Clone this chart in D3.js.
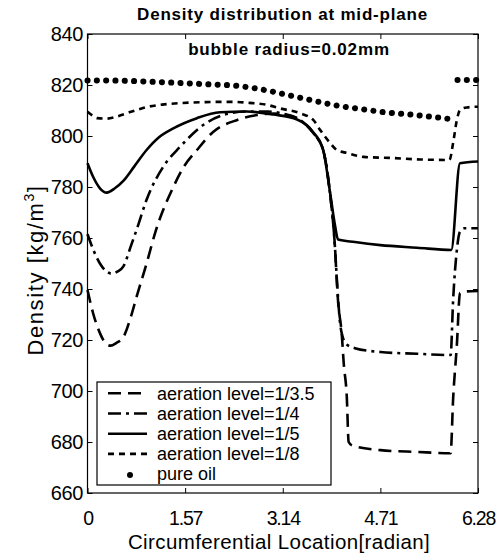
<!DOCTYPE html>
<html><head><meta charset="utf-8">
<script src="https://cdn.jsdelivr.net/npm/d3@7"></script>
<style>
body{margin:0;background:#fff}
svg{display:block}
text{font-family:"Liberation Sans",Arial,Helvetica,sans-serif;fill:#000}
</style>
</head><body>
<svg id="c" width="504" height="553"></svg>
<script>
// ---------- data ----------
const xTicks = [0, 1.57, 3.14, 4.71, 6.28];
const xTickLabels = ["0", "1.57", "3.14", "4.71", "6.28"];
const yTicks = [660, 680, 700, 720, 740, 760, 780, 800, 820, 840];
const seriesNames = ["aeration level=1/3.5", "aeration level=1/4", "aeration level=1/5", "aeration level=1/8", "pure oil"];

const aer35 = [[0,739.6],[0.09,730.5],[0.2,722.7],[0.3,718.5],[0.37,717.8],[0.46,718.8],[0.58,721.3],[0.69,728.5],[0.79,737],[0.95,750],[1.1,763],[1.38,780],[1.55,788],[1.76,794.5],[2.02,801.6],[2.41,806.3],[2.73,808.2],[3.0,808.8],[3.2,808.2],[3.42,806.3],[3.63,801.2],[3.79,794.5],[3.9,777.6],[3.97,760],[4.03,735],[4.09,722],[4.12,711],[4.17,697.7],[4.2,680],[4.26,678.6],[4.71,676.8],[5.3,676.1],[5.84,675.6],[5.88,697],[5.94,718],[5.99,738.4],[6.06,739],[6.28,739.2]];

const aer4 = [[0,761.5],[0.1,755],[0.2,750],[0.3,747],[0.39,746],[0.48,746.8],[0.58,749],[0.7,757],[0.8,764],[0.95,775],[1.22,788],[1.49,795.8],[1.86,804.3],[2.18,808.2],[2.57,809.6],[2.9,809.6],[3.1,809],[3.42,806.3],[3.63,801.2],[3.79,794.5],[3.9,777.6],[3.97,760],[4.02,740],[4.06,727],[4.1,721.5],[4.17,718.2],[4.3,716.8],[4.71,715.3],[5.3,714.6],[5.84,714.1],[5.88,735.7],[5.94,755.3],[5.99,762.5],[6.06,763.8],[6.28,763.8]];

const aer5 = [[0,789.3],[0.09,784],[0.2,779.5],[0.31,777.8],[0.44,779.5],[0.58,782.5],[0.75,788],[0.95,794.5],[1.15,799.5],[1.38,803],[1.76,807],[2.13,809.3],[2.56,809.6],[2.99,808.4],[3.37,806.5],[3.63,801.5],[3.79,794.5],[3.9,778],[3.98,765],[4.03,759.4],[4.3,758.4],[4.71,757.2],[5.3,756.2],[5.85,755.3],[5.99,789.3],[6.28,790]];

const aer8 = [[0,809.5],[0.08,808],[0.16,807],[0.3,806.8],[0.45,807.5],[0.7,809.5],[0.96,811.4],[1.2,812.3],[1.49,812.9],[1.9,813.3],[2.29,813.4],[2.6,813],[2.89,812.2],[3.1,810.8],[3.42,808.9],[3.63,806.3],[3.74,802.4],[3.9,797.3],[4.01,794.5],[4.18,793.3],[4.44,791.8],[4.87,791.4],[5.35,790.8],[5.82,790.6],[5.88,797.3],[5.94,806.3],[5.99,810.2],[6.1,811.2],[6.28,811.5]];

const pureOil = [[0,821.8],[0.5,821.7],[1.0,821.3],[1.57,820.7],[2.0,820.2],[2.34,819.8],[2.9,817.8],[3.14,816.5],[3.42,815],[4.0,812],[4.5,810.2],[4.71,809.5],[5.2,808.4],[5.5,807.6],[5.86,806.6], null, [5.95,822],[6.28,822]];

// ---------- layout ----------
const svg = d3.select("#c");
const L = 87.5, R = 478, T = 34, B = 493;
const x = d3.scaleLinear().domain([0, 6.28]).range([L, R]);
const y = d3.scaleLinear().domain([660, 840]).range([B, T]);
const font = '"Liberation Sans",Arial,Helvetica,sans-serif';

svg.append("rect").attr("width", 504).attr("height", 553).attr("fill", "#fff");

const styles = [
  {data: aer35, dash: "13,7", w: 2.6, cap: "butt"},
  {data: aer4, dash: "13,5,3,5", w: 2.6, cap: "butt"},
  {data: aer5, dash: null, w: 2.6, cap: "butt"},
  {data: aer8, dash: "6,5", w: 2.6, cap: "butt"},
  {data: pureOil, dash: "0.1,9.2", w: 6, cap: "round"}
];

const line = d3.line()
  .defined(d => d !== null)
  .x(d => x(d[0]))
  .y(d => y(d[1]))
  .curve(d3.curveMonotoneX);

const g = svg.append("g");
styles.forEach(s => {
  g.append("path")
    .attr("d", line(s.data))
    .attr("fill", "none")
    .attr("stroke", "#000")
    .attr("stroke-width", s.w)
    .attr("stroke-linecap", s.cap)
    .attr("stroke-linejoin", "round")
    .attr("stroke-dasharray", s.dash);
});

// ---------- axes ----------
const axL = svg.append("g").attr("transform", `translate(${L},0)`)
  .call(d3.axisLeft(y).tickValues(yTicks).tickSize(-5).tickPadding(4.5).tickFormat(d3.format("d")));
const axB = svg.append("g").attr("transform", `translate(0,${B})`)
  .call(d3.axisBottom(x).tickValues(xTicks).tickSize(-5).tickPadding(18).tickFormat((d, i) => xTickLabels[i]));
const axT = svg.append("g").attr("transform", `translate(0,${T})`)
  .call(d3.axisTop(x).tickValues(xTicks).tickSize(-5).tickFormat(""));
const axR = svg.append("g").attr("transform", `translate(${R},0)`)
  .call(d3.axisRight(y).tickValues(yTicks).tickSize(-5).tickFormat(""));
[axL, axB, axT, axR].forEach(a => {
  a.select(".domain").remove();
  a.selectAll("line").attr("stroke", "#000").attr("stroke-width", 1);
  a.selectAll("text").attr("font-family", font).attr("font-size", 20).attr("fill", "#000");
});
axB.selectAll("text").attr("font-size", 19.5).attr("letter-spacing", -1.2);
axL.selectAll("text").attr("letter-spacing", -0.4);

svg.append("rect").attr("x", L).attr("y", T).attr("width", R - L).attr("height", B - T)
  .attr("fill", "none").attr("stroke", "#000").attr("stroke-width", 1.2);

// ---------- legend ----------
const lg = svg.append("g");
lg.append("rect").attr("x", 97).attr("y", 382).attr("width", 234).attr("height", 103)
  .attr("fill", "#fff").attr("stroke", "#000").attr("stroke-width", 1.2);
seriesNames.forEach((name, i) => {
  const yy = 393.3 + i * 20.2;
  const s = styles[i];
  if (s.cap === "round") {
    lg.append("circle").attr("cx", 130).attr("cy", yy + 1).attr("r", 3).attr("fill", "#000");
  } else {
    lg.append("line").attr("x1", 108).attr("x2", 147).attr("y1", yy).attr("y2", yy)
      .attr("stroke", "#000").attr("stroke-width", s.w).attr("stroke-dasharray", s.dash);
  }
  lg.append("text").attr("x", 157).attr("y", yy + 6.3)
    .attr("font-size", 18).attr("font-family", font).text(name);
});

// ---------- titles ----------
svg.append("text").attr("x", 282.5).attr("y", 19.5).attr("text-anchor", "middle")
  .attr("font-size", 17).attr("font-weight", "bold").attr("letter-spacing", 0.8)
  .attr("font-family", font).text("Density distribution at mid-plane");
svg.append("text").attr("x", 289).attr("y", 55).attr("text-anchor", "middle")
  .attr("font-size", 17).attr("font-weight", "bold").attr("letter-spacing", 0.85)
  .attr("font-family", font).text("bubble radius=0.02mm");
svg.append("text").attr("x", 279).attr("y", 548.5).attr("text-anchor", "middle")
  .attr("font-size", 20.5).attr("letter-spacing", 0.4)
  .attr("font-family", font).text("Circumferential Location[radian]");

const yt = svg.append("text").attr("transform", "translate(43,270) rotate(-90)")
  .attr("text-anchor", "middle").attr("font-size", 22).attr("letter-spacing", 1.6)
  .attr("font-family", font);
yt.append("tspan").text("Density [kg/m");
yt.append("tspan").attr("font-size", 14).attr("dy", -9).text("3");
yt.append("tspan").attr("dy", 9).text("]");
</script>
</body></html>
